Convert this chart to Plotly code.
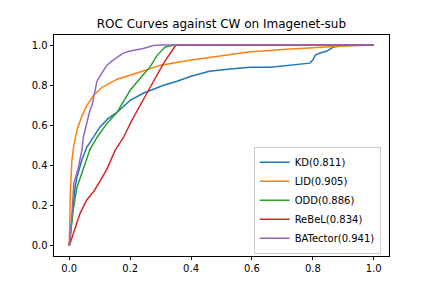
import plotly.graph_objects as go

title = "ROC Curves against CW on Imagenet-sub"
tick_vals = [0.0, 0.2, 0.4, 0.6, 0.8, 1.0]

kd_name = "KD(0.811)"
kd_fpr = [0, 0.003, 0.008, 0.013, 0.019, 0.025, 0.042, 0.057, 0.078, 0.1, 0.128, 0.157, 0.2, 0.243,
          0.31, 0.354, 0.40, 0.46, 0.52, 0.594, 0.66, 0.715, 0.79, 0.80, 0.808, 0.824, 0.846, 0.867, 0.90, 1.0]
kd_tpr = [0, 0.05, 0.12, 0.2, 0.29, 0.34, 0.43, 0.49, 0.54, 0.59, 0.635, 0.665, 0.725, 0.76,
          0.80, 0.82, 0.845, 0.87, 0.88, 0.89, 0.89, 0.90, 0.91, 0.925, 0.95, 0.96, 0.97, 0.99, 0.998, 1.0]

lid_name = "LID(0.905)"
lid_fpr = [0, 0.002, 0.004, 0.009, 0.015, 0.026, 0.04, 0.058, 0.08, 0.108, 0.157, 0.22, 0.30, 0.40,
           0.49, 0.59, 0.70, 0.80, 0.90, 1.0]
lid_tpr = [0, 0.2, 0.28, 0.43, 0.5, 0.58, 0.64, 0.70, 0.75, 0.79, 0.83, 0.86, 0.90, 0.925,
           0.945, 0.965, 0.978, 0.988, 0.995, 1.0]

odd_name = "ODD(0.886)"
odd_fpr = [0, 0.005, 0.013, 0.025, 0.046, 0.068, 0.091, 0.124, 0.157, 0.2, 0.233, 0.265, 0.289, 0.315, 0.345, 1.0]
odd_tpr = [0, 0.08, 0.18, 0.29, 0.38, 0.48, 0.54, 0.61, 0.665, 0.775, 0.835, 0.89, 0.95, 0.99, 1.0, 1.0]

rebel_name = "ReBeL(0.834)"
rebel_fpr = [0, 0.02, 0.035, 0.058, 0.08, 0.10, 0.123, 0.151, 0.178, 0.206, 0.223, 0.255, 0.31, 0.35, 1.0]
rebel_tpr = [0, 0.09, 0.16, 0.23, 0.27, 0.32, 0.38, 0.477, 0.54, 0.626, 0.67, 0.76, 0.91, 1.0, 1.0]

bat_name = "BATector(0.941)"
bat_fpr = [0, 0.003, 0.009, 0.015, 0.03, 0.042, 0.046, 0.058, 0.068, 0.075, 0.085, 0.091, 0.111, 0.124,
           0.14, 0.177, 0.2, 0.223, 0.243, 0.276, 0.3, 1.0]
bat_tpr = [0, 0.04, 0.16, 0.31, 0.39, 0.48, 0.54, 0.61, 0.675, 0.70, 0.785, 0.82, 0.87, 0.90,
           0.92, 0.96, 0.97, 0.975, 0.983, 0.998, 1.0, 1.0]

colors = ["#1f77b4", "#ff7f0e", "#2ca02c", "#d62728", "#9467bd"]
series = [(kd_name, kd_fpr, kd_tpr), (lid_name, lid_fpr, lid_tpr), (odd_name, odd_fpr, odd_tpr),
          (rebel_name, rebel_fpr, rebel_tpr), (bat_name, bat_fpr, bat_tpr)]

fig = go.Figure()
for (name, xs, ys), c in zip(series, colors):
    fig.add_trace(go.Scatter(x=xs, y=ys, mode="lines", name=name,
                             line=dict(color=c, width=1.5)))

axis_common = dict(
    showgrid=False, zeroline=False, showline=True, linecolor="black", linewidth=0.8,
    mirror=True, ticks="outside", ticklen=3.5, tickwidth=0.8, tickcolor="black",
    tickvals=tick_vals, tickformat=".1f", range=[-0.05, 1.05], automargin=False,
    tickfont=dict(family="DejaVu Sans", size=10, color="black"),
)

# The page body has an 8px margin, so the figure is 16px smaller and margins are shifted.
W, H = 416, 272
fig.update_layout(
    width=W, height=H,
    margin=dict(l=46, r=35.2, t=26.56, b=23.7, pad=0),
    plot_bgcolor="white", paper_bgcolor="white",
    title=dict(text=title, x=(221.4 - 8) / W, xref="container", xanchor="center",
               y=1 - 16 / H, yref="container", yanchor="middle",
               font=dict(family="DejaVu Sans", size=12, color="black")),
    xaxis=axis_common, yaxis=axis_common,
    legend=dict(x=0.975, y=0.01, xanchor="right", yanchor="bottom",
                bordercolor="#cccccc", borderwidth=1, bgcolor="rgba(255,255,255,0.8)",
                font=dict(family="DejaVu Sans", size=10, color="black"),
                itemwidth=30, tracegroupgap=0),
    showlegend=True,
)

fig.write_html("out.html")
